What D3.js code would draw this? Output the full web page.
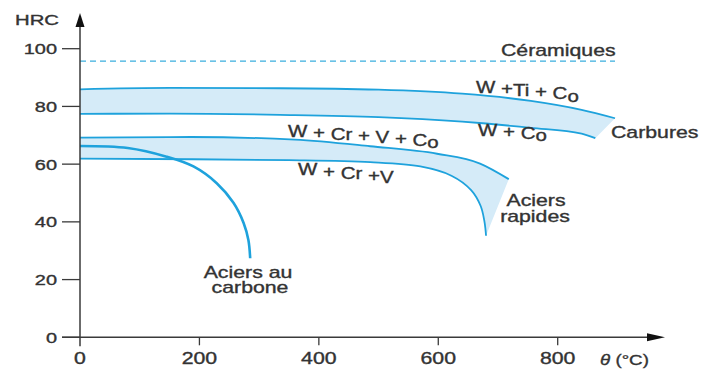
<!DOCTYPE html>
<html>
<head>
<meta charset="utf-8">
<script src="https://cdn.jsdelivr.net/npm/d3@7"></script>
<style>
  html, body { margin: 0; padding: 0; background: #fff; }
  svg { display: block; }
  text { font-family: "Liberation Sans", Arial, Helvetica, sans-serif; fill: #333; stroke: #333; stroke-width: 0.35; }
</style>
</head>
<body>
<svg id="chart" width="703" height="370"></svg>
<script>
// ---- Data (temperature °C, hardness HRC) ----
const xTicks = [0, 200, 400, 600, 800];
const yTicks = [0, 20, 40, 60, 80, 100];

const ceramiques = [[0, 95.7], [896, 95.7]];

const carbTop = [[0, 85.9], [150, 86.4], [335, 86.3], [500, 85.8], [640, 84.4], [755, 81.9], [840, 78.8], [896, 75.9]];
const carbBottom = [[0, 77.4], [150, 77.5], [335, 77.1], [500, 76.3], [640, 74.7], [755, 72.6], [840, 70.6], [863, 69.0]];

const rapTop = [[0, 69.2], [185, 69.4], [360, 68.5], [486, 66.2], [598, 63.6], [670, 60.2], [718, 54.8]];
const rapBottom = [[0, 61.9], [350, 61.4], [486, 60.7], [570, 59.2], [622, 56.0], [655, 51.0], [671, 45.5], [677, 40.5], [679, 37.5], [680, 35.2]];

const carbone = [[0, 66.3], [80, 65.6], [145, 62.6], [190, 59.2], [229, 53.4], [257, 46.6], [274, 39.6], [282, 33.7], [285, 27.4]];

// ---- Layout ----
const svg = d3.select("#chart");
const x = d3.scaleLinear().domain([0, 800]).range([80, 557.7]);
const y = d3.scaleLinear().domain([0, 100]).range([337.3, 48.7]);

const BLUE = "#1ea2dc";
const FILL = "#d5ebf8";
const AXIS = "#3a3a3a";
const SX = 1.33;

const line = d3.line().x(d => x(d[0])).y(d => y(d[1])).curve(d3.curveMonotoneX);
const smooth = d3.line().x(d => x(d[0])).y(d => y(d[1])).curve(d3.curveCatmullRom.alpha(0.5));

function bandPath(topD, bottomD) {
  const tmp = svg.append("path").attr("d", topD).attr("fill", "none");
  const tmp2 = svg.append("path").attr("d", bottomD).attr("fill", "none");
  const pts = [];
  const n1 = tmp.node(), n2 = tmp2.node();
  const L1 = n1.getTotalLength(), L2 = n2.getTotalLength();
  for (let i = 0; i <= 200; i++) { const p = n1.getPointAtLength(L1 * i / 200); pts.push([p.x, p.y]); }
  for (let i = 200; i >= 0; i--) { const p = n2.getPointAtLength(L2 * i / 200); pts.push([p.x, p.y]); }
  tmp.remove(); tmp2.remove();
  return "M" + pts.map(p => p[0].toFixed(2) + "," + p[1].toFixed(2)).join("L") + "Z";
}

const dCarbTop = line(carbTop), dCarbBot = line(carbBottom);
const dRapTop = line(rapTop), dRapBot = smooth(rapBottom);

svg.append("path").attr("d", bandPath(dCarbTop, dCarbBot)).attr("fill", FILL).attr("stroke", "none");
svg.append("path").attr("d", bandPath(dRapTop, dRapBot)).attr("fill", FILL).attr("stroke", "none");

svg.append("path").attr("d", d3.line().x(d => x(d[0])).y(d => y(d[1]))(ceramiques))
  .attr("fill", "none").attr("stroke", "#3aaede").attr("stroke-width", 1.1).attr("stroke-dasharray", "6,4");

[dCarbTop, dCarbBot, dRapTop, dRapBot].forEach(d => {
  svg.append("path").attr("d", d).attr("fill", "none").attr("stroke", BLUE).attr("stroke-width", 1.8);
});
svg.append("path").attr("d", smooth(carbone)).attr("fill", "none").attr("stroke", BLUE).attr("stroke-width", 2.6);

// ---- Axes ----
const x0 = x(0), y0 = y(0);
svg.append("line").attr("x1", x0).attr("x2", x0).attr("y1", y0 + 9).attr("y2", 22)
  .attr("stroke", AXIS).attr("stroke-width", 1.5);
svg.append("path").attr("d", `M${x0},13 L${x0 - 4.5},27 L${x0 + 4.5},27 Z`).attr("fill", "#111");
svg.append("line").attr("x1", 62).attr("x2", 652).attr("y1", y0).attr("y2", y0)
  .attr("stroke", AXIS).attr("stroke-width", 1.5);
svg.append("path").attr("d", `M665,${y0} L647,${y0 - 4} L647,${y0 + 4} Z`).attr("fill", "#111");

yTicks.forEach(t => {
  svg.append("line").attr("x1", 62).attr("x2", x0).attr("y1", y(t)).attr("y2", y(t))
    .attr("stroke", AXIS).attr("stroke-width", 1.3);
  svg.append("text").attr("transform", `translate(57,${y(t) + 5.5}) scale(${SX},1)`)
    .attr("text-anchor", "end").attr("font-size", 15).text(t);
});
xTicks.forEach(t => {
  if (t !== 0) {
    svg.append("line").attr("x1", x(t)).attr("x2", x(t)).attr("y1", y0).attr("y2", y0 + 8)
      .attr("stroke", AXIS).attr("stroke-width", 1.3);
  }
  svg.append("text").attr("transform", `translate(${x(t)},${y0 + 27}) scale(${SX},1)`)
    .attr("text-anchor", "middle").attr("font-size", 16).text(t);
});

svg.append("text").attr("transform", `translate(15,25) scale(1.4,1)`).attr("font-size", 14.5).text("HRC");
const th = svg.append("text").attr("transform", `translate(600,365) scale(1.25,1)`).attr("font-size", 15);
th.append("tspan").attr("font-style", "italic").text("θ");
th.append("tspan").text(" (°C)");

// ---- Labels ----
function label(x0, y0, str, anchor) {
  svg.append("text").attr("transform", `translate(${x0},${y0}) scale(${SX},1)`)
    .attr("text-anchor", anchor || "start").attr("font-size", 16).text(str);
}
function stepLabel(x0, y0, tokens) {
  const t = svg.append("text").attr("transform", `translate(${x0},${y0}) scale(1.28,1)`).attr("font-size", 16);
  tokens.forEach(([s, dy]) => t.append("tspan").attr("dy", dy).text(s));
}

label(501, 56, "Céramiques");
label(611, 138, "Carbures");
label(536, 206, "Aciers", "middle");
label(535, 222, "rapides", "middle");
label(248, 278, "Aciers au", "middle");
label(250, 293, "carbone", "middle");

stepLabel(476, 93, [["W", 0], [" +", 1], ["Ti", 1.5], [" +", 1.5], [" C", 2], ["o", 2.5]]);
stepLabel(478, 136, [["W", 0], [" +", 1], [" C", 1.5], ["o", 2.5]]);
stepLabel(288, 137, [["W", 0], [" +", 1], [" Cr", 1.5], [" +", 1.5], [" V", 1.5], [" +", 1.5], [" C", 1.5], ["o", 2]]);
stepLabel(298, 175, [["W", 0], [" +", 1.5], [" Cr", 2], [" +", 2], ["V", 2]]);
</script>
</body>
</html>
